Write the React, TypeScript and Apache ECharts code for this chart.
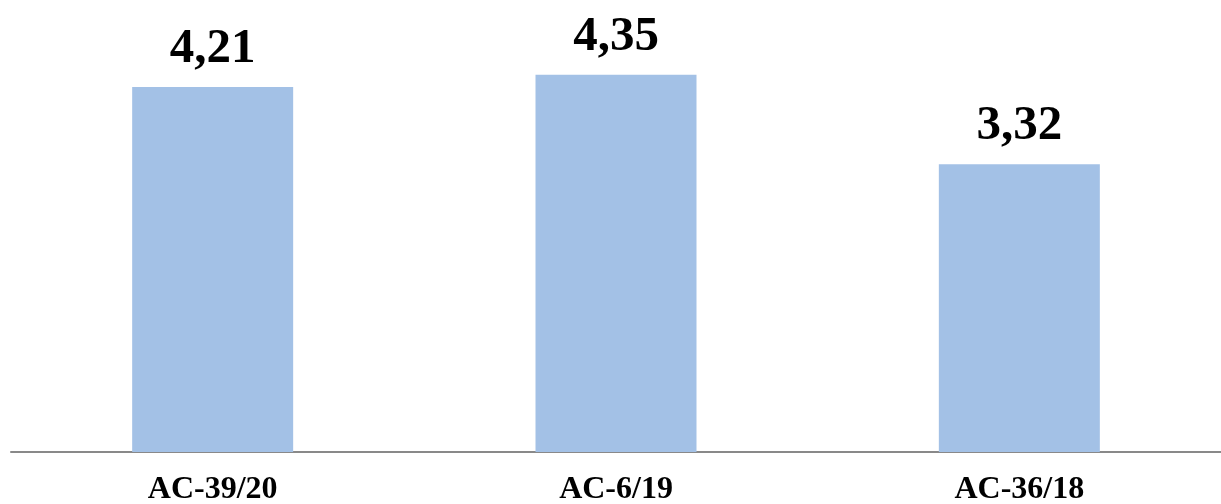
import React, { useEffect, useRef } from "react";
import * as echarts from "echarts";

const categories = ["AC-39/20", "AC-6/19", "AC-36/18"];
const values = [4.21, 4.35, 3.32];

export default function App() {
  const ref = useRef<HTMLDivElement>(null);
  useEffect(() => {
    const chart = echarts.init(ref.current!, null, { renderer: "svg" });
    chart.setOption({
      animation: false,
      grid: { left: 11, right: 0, top: 18.5, bottom: 52, containLabel: false },
      xAxis: {
        type: "category",
        data: categories,
        axisLine: { show: true, lineStyle: { color: "#898989", width: 2 } },
        axisTick: { show: false },
        axisLabel: {
          margin: 22,
          lineHeight: 26,
          fontFamily: "Liberation Serif",
          fontWeight: "bold",
          fontSize: 32,
          color: "#000",
        },
      },
      yAxis: {
        type: "value",
        min: 0,
        max: 5,
        show: false,
        splitLine: { show: false },
      },
      series: [
        {
          type: "bar",
          data: values,
          barWidth: 161,
          itemStyle: { color: "#A3C1E6" },
          label: {
            show: true,
            position: "top",
            distance: 17,
            formatter: (p: any) => String(p.value.toFixed(2)).replace(".", ","),
            fontFamily: "Liberation Serif",
            fontWeight: "bold",
            fontSize: 49,
            color: "#000",
          },
        },
      ],
    });
    return () => chart.dispose();
  }, []);
  return (
    <div
      ref={ref}
      style={{ position: "fixed", left: 0, top: 0, width: 1221, height: 504 }}
    />
  );
}
